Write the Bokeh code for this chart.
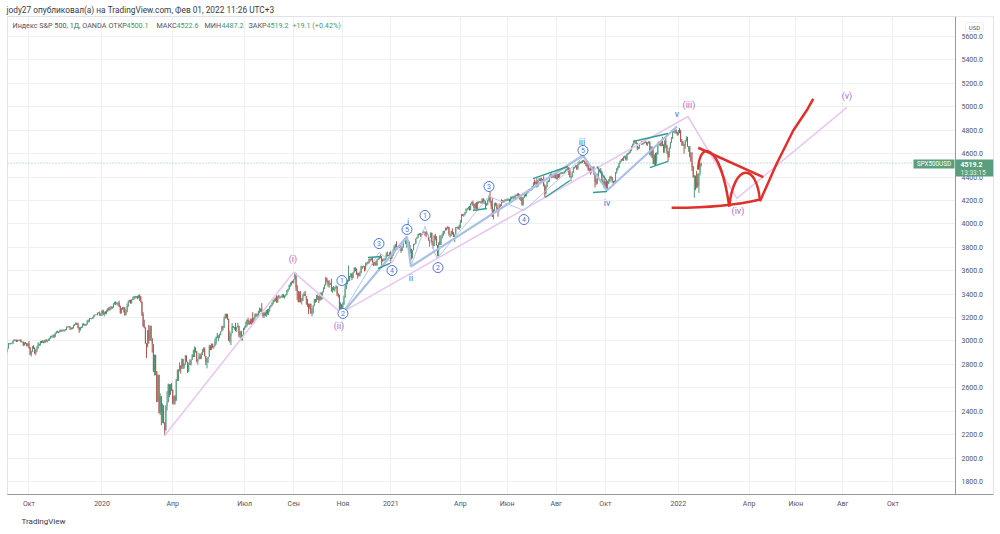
from bokeh.plotting import figure
from bokeh.models import (FixedTicker, PrintfTickFormatter, Label, Span, ColumnDataSource,
                          BoxAnnotation, Title)
from bokeh.core.properties import value
from bokeh.embed import file_html
from bokeh.resources import INLINE

FONT = "Roboto"

# ---------------- daily closes (SPX500USD, OANDA), one list per month ----------------
c2019_09 = [2906, 2938, 2977, 2979, 2979, 2980, 3001, 3009, 3007, 2998, 3006, 3007, 3006, 2992, 2992, 2966, 2984, 2977, 2961, 2977]
c2019_10 = [2940, 2887, 2910, 2952, 2938, 2893, 2919, 2938, 2970, 2966, 2995, 2990, 2998, 2986, 3007, 2996, 3005, 3010, 3023, 3039, 3036, 3047, 3038]
c2019_11 = [3067, 3078, 3075, 3077, 3085, 3093, 3087, 3091, 3094, 3097, 3120, 3122, 3120, 3108, 3104, 3110, 3134, 3141, 3153, 3141]
c2019_12 = [3114, 3093, 3113, 3117, 3146, 3136, 3133, 3142, 3169, 3169, 3191, 3192, 3191, 3205, 3221, 3224, 3223, 3240, 3240, 3221, 3231]
c2020_01 = [3258, 3235, 3246, 3237, 3253, 3275, 3265, 3288, 3283, 3289, 3317, 3330, 3321, 3321, 3325, 3295, 3244, 3276, 3273, 3284, 3226]
c2020_02 = [3249, 3298, 3334, 3346, 3328, 3352, 3358, 3379, 3374, 3380, 3370, 3386, 3373, 3338, 3226, 3128, 3116, 2979, 2954]
c2020_03 = [3090, 3003, 3130, 3024, 2972, 2747, 2882, 2741, 2481, 2711, 2386, 2529, 2398, 2409, 2305, 2237, 2447, 2476, 2630, 2541, 2627, 2585]
c2020_04 = [2471, 2527, 2489, 2664, 2660, 2750, 2790, 2762, 2846, 2784, 2800, 2875, 2823, 2737, 2799, 2798, 2837, 2878, 2863, 2939, 2912]
c2020_05 = [2830, 2843, 2868, 2848, 2881, 2930, 2930, 2870, 2820, 2852, 2863, 2954, 2922, 2972, 2949, 2955, 2991, 3036, 3029, 3044]
c2020_06 = [3055, 3081, 3122, 3112, 3193, 3232, 3207, 3190, 3002, 3041, 3067, 3125, 3113, 3115, 3097, 3117, 3131, 3050, 3084, 3009, 3053, 3100]
c2020_07 = [3116, 3130, 3180, 3145, 3169, 3152, 3185, 3155, 3197, 3227, 3215, 3224, 3251, 3257, 3276, 3236, 3216, 3239, 3218, 3258, 3246, 3271]
c2020_08 = [3295, 3306, 3327, 3349, 3351, 3360, 3333, 3380, 3373, 3373, 3381, 3389, 3374, 3385, 3397, 3431, 3443, 3479, 3484, 3508, 3500]
c2020_09 = [3526, 3580, 3455, 3427, 3331, 3398, 3339, 3341, 3383, 3401, 3385, 3357, 3319, 3281, 3315, 3237, 3246, 3298, 3351, 3335, 3363]
c2020_10 = [3381, 3348, 3408, 3361, 3419, 3447, 3477, 3535, 3512, 3489, 3483, 3484, 3427, 3443, 3436, 3453, 3465, 3401, 3391, 3271, 3310, 3270]
c2020_11 = [3310, 3370, 3443, 3510, 3509, 3551, 3545, 3572, 3537, 3585, 3627, 3610, 3568, 3582, 3558, 3578, 3635, 3629, 3638, 3622]
c2020_12 = [3662, 3669, 3666, 3699, 3692, 3702, 3673, 3668, 3663, 3647, 3695, 3702, 3722, 3709, 3695, 3687, 3690, 3703, 3735, 3727, 3732, 3756]
c2021_01 = [3701, 3726, 3748, 3804, 3825, 3799, 3801, 3809, 3795, 3768, 3798, 3852, 3853, 3841, 3855, 3849, 3750, 3787, 3714]
c2021_02 = [3774, 3826, 3830, 3872, 3887, 3915, 3911, 3910, 3916, 3934, 3932, 3931, 3913, 3907, 3877, 3881, 3925, 3829, 3811]
c2021_03 = [3901, 3870, 3820, 3768, 3842, 3821, 3875, 3898, 3939, 3943, 3968, 3962, 3974, 3915, 3913, 3940, 3910, 3889, 3909, 3974, 3971, 3958, 3973]
c2021_04 = [4019, 4077, 4073, 4079, 4097, 4128, 4127, 4141, 4124, 4170, 4185, 4163, 4135, 4173, 4134, 4180, 4187, 4186, 4183, 4211, 4181]
c2021_05 = [4192, 4164, 4167, 4201, 4232, 4188, 4152, 4063, 4113, 4173, 4163, 4127, 4116, 4159, 4156, 4197, 4188, 4196, 4200, 4204]
c2021_06 = [4202, 4208, 4192, 4229, 4226, 4227, 4219, 4239, 4247, 4255, 4246, 4223, 4222, 4166, 4224, 4246, 4242, 4266, 4281, 4291, 4291, 4297]
c2021_07 = [4320, 4352, 4344, 4358, 4321, 4370, 4385, 4369, 4374, 4361, 4327, 4259, 4323, 4359, 4368, 4412, 4422, 4402, 4400, 4419, 4395]
c2021_08 = [4387, 4423, 4402, 4429, 4437, 4432, 4436, 4447, 4460, 4468, 4479, 4448, 4400, 4405, 4441, 4479, 4486, 4496, 4470, 4509, 4529, 4523]
c2021_09 = [4524, 4537, 4535, 4520, 4514, 4493, 4459, 4469, 4443, 4481, 4474, 4433, 4358, 4354, 4396, 4449, 4455, 4443, 4353, 4360, 4308]
c2021_10 = [4357, 4300, 4345, 4363, 4399, 4391, 4361, 4350, 4364, 4438, 4471, 4486, 4520, 4537, 4549, 4545, 4567, 4575, 4551, 4596, 4605]
c2021_11 = [4614, 4630, 4660, 4680, 4697, 4702, 4685, 4646, 4649, 4683, 4682, 4700, 4688, 4705, 4698, 4682, 4690, 4701, 4595, 4655, 4567]
c2021_12 = [4513, 4577, 4538, 4592, 4686, 4701, 4668, 4712, 4669, 4635, 4710, 4669, 4621, 4568, 4650, 4697, 4726, 4791, 4786, 4793, 4778, 4766]
c2022_01 = [4797, 4794, 4701, 4696, 4677, 4670, 4713, 4726, 4660, 4663, 4577, 4533, 4483, 4398, 4410, 4357, 4350, 4327, 4432, 4516]

# wick beyond the body (points above / below), per trading day
up_2019 = [8, 5, 6, 4, 5, 6, 3, 7, 4, 5, 6, 4, 5, 9, 6, 4, 5, 7, 6, 5,
           22, 10, 6, 5, 12, 8, 9, 18, 20, 8, 6, 7, 9, 6, 5, 10, 6, 9, 5, 6, 6, 8, 10,
           5, 6, 8, 6, 12, 5, 4, 8, 5, 6, 5, 4, 6, 8, 6, 9, 5, 4, 6, 3,
           14, 6, 9, 5, 4, 7, 8, 5, 12, 14, 6, 5, 4, 5, 4, 5, 3, 4, 6, 12, 4]
dn_2019 = [12, 4, 5, 6, 8, 7, 5, 4, 6, 7, 5, 6, 8, 4, 6, 10, 7, 5, 8, 6,
           4, 8, 20, 6, 5, 4, 15, 12, 4, 8, 5, 9, 6, 5, 6, 4, 10, 5, 7, 4, 6, 8, 14,
           6, 5, 4, 9, 5, 7, 9, 5, 10, 6, 5, 6, 5, 14, 8, 5, 4, 6, 5, 4,
           8, 24, 5, 6, 5, 4, 6, 5, 4, 12, 6, 4, 5, 4, 6, 4, 2, 4, 5, 6, 10]
up_2020 = [6, 10, 5, 8, 14, 7, 14, 6, 10, 8, 6, 5, 8, 12, 6, 20, 8, 6, 12, 8, 4,
           18, 22, 12, 6, 6, 5, 18, 5, 6, 4, 6, 7, 12, 12, 0, 20, 54, 0, 0,
           4, 47, 0, 0, 0, 0, 0, 0, 0, 0, 0, 24, 0, 57, 44, 0, 2, 95, 7, 0, 4, 14,
           0, 6, 11, 12, 92, 10, 28, 0, 6, 0, 7, 4, 0, 0, 16, 45, 5, 9, 47, 15, 6,
           0, 0, 30, 23, 20, 2, 15, 15, 4, 0, 0, 14, 10, 8, 6, 1, 30, 0, 32, 5,
           7, 0, 8, 8, 18, 0, 0, 25, 0, 47, 0, 28, 5, 5, 40, 3, 24, 0, 0, 4, 0, 12,
           12, 35, 5, 19, 6, 22, 8, 60, 5, 7, 10, 10, 7, 29, 3, 47, 12, 6, 13, 6, 14, 5,
           3, 4, 2, 5, 12, 11, 30, 7, 14, 9, 7, 11, 13, 5, 2, 4, 4, 2, 17, 1, 8,
           2, 8, 0, 24, 0, 26, 27, 27, 19, 18, 27, 0, 0, 0, 5, 5, 29, 8, 9, 10, 30,
           16, 5, 6, 7, 5, 12, 5, 14, 6, 5, 30, 15, 47, 17, 26, 7, 10, 5, 6, 4, 21, 5,
           20, 18, 43, 8, 12, 94, 6, 8, 9, 4, 1, 0, 9, 0, 0, 16, 8, 0, 6, 0,
           6, 4, 10, 5, 5, 7, 10, 5, 6, 22, 4, 9, 4, 17, 8, 7, 16, 5, 21, 29, 5, 4]
dn_2020 = [18, 13, 25, 8, 8, 6, 6, 5, 14, 10, 6, 6, 16, 10, 22, 6, 13, 10, 6, 30, 12,
           6, 5, 8, 6, 10, 10, 5, 6, 12, 8, 14, 5, 30, 10, 12, 10, 8, 2, 99,
           9, 27, 0, 25, 71, 13, 42, 34, 3, 0, 5, 19, 117, 99, 10, 45, 0, 40, 0, 21, 0, 14,
           12, 16, 30, 0, 3, 0, 10, 41, 0, 23, 20, 0, 3, 10, 0, 4, 7, 0, 2, 0, 11,
           14, 32, 0, 4, 0, 0, 27, 1, 27, 54, 39, 0, 0, 0, 11, 15, 0, 22, 6, 31,
           19, 7, 0, 22, 0, 0, 14, 9, 0, 18, 76, 0, 3, 20, 14, 20, 0, 18, 26, 2, 9, 0,
           6, 4, 8, 6, 10, 10, 13, 5, 10, 16, 8, 20, 15, 15, 10, 6, 16, 20, 5, 13, 20, 24,
           20, 10, 8, 14, 18, 13, 7, 8, 11, 12, 4, 12, 5, 11, 7, 5, 14, 7, 19, 10, 7,
           10, 0, 28, 78, 1, 0, 10, 28, 0, 0, 0, 47, 27, 52, 10, 5, 28, 14, 0, 8, 0,
           13, 25, 5, 10, 6, 5, 4, 5, 13, 25, 28, 6, 5, 16, 5, 15, 6, 17, 20, 5, 21, 37,
           0, 0, 0, 0, 25, 0, 34, 0, 17, 0, 0, 16, 1, 38, 7, 7, 0, 15, 0, 28,
           20, 18, 10, 5, 14, 4, 23, 29, 18, 5, 5, 4, 5, 3, 57, 12, 4, 5, 2, 5, 4, 14]
up_2021 = [13, 6, 35, 13, 1, 26, 9, 11, 19, 20, 11, 7, 7, 7, 10, 11, 0, 32, 0,
           0, 3, 3, 4, 2, 0, 6, 10, 0, 0, 3, 0, 7, 14, 0, 0, 3, 0, 25,
           0, 15, 25, 0, 0, 60, 28, 20, 0, 0, 0, 0, 9, 0, 0, 0, 21, 20, 0, 0, 0, 10, 21,
           14, 6, 9, 7, 5, 4, 6, 5, 12, 5, 6, 14, 8, 5, 14, 11, 6, 8, 9, 7, 10,
           17, 8, 11, 6, 9, 40, 10, 70, 12, 8, 10, 14, 12, 16, 9, 15, 6, 6, 11, 9,
           13, 8, 6, 4, 5, 12, 13, 12, 5, 6, 8, 7, 10, 9, 4, 5, 14, 6, 5, 6, 7, 5,
           5, 3, 27, 6, 32, 5, 6, 8, 20, 10, 46, 10, 6, 5, 6, 7, 8, 8, 16, 10, 16,
           34, 6, 5, 6, 4, 7, 8, 5, 6, 4, 5, 8, 27, 7, 6, 6, 3, 5, 6, 6, 6, 3,
           14, 8, 10, 6, 9, 8, 38, 12, 17, 6, 7, 19, 10, 30, 35, 16, 8, 21, 9, 16, 52,
           9, 12, 12, 20, 10, 12, 10, 6, 7, 5, 5, 8, 2, 4, 6, 14, 10, 8, 10, 6, 3,
           6, 5, 6, 5, 3, 16, 7, 6, 10, 6, 7, 8, 10, 6, 17, 4, 8, 6, 4, 10, 6,
           85, 18, 30, 20, 10, 5, 7, 2, 31, 10, 3, 34, 6, 0, 2, 3, 14, 0, 16, 11, 15, 8]
dn_2021 = [38, 0, 0, 0, 15, 0, 18, 6, 0, 14, 0, 0, 0, 14, 45, 0, 0, 0, 20,
           9, 0, 9, 0, 0, 9, 7, 21, 13, 11, 11, 33, 28, 0, 22, 72, 0, 6, 22,
           0, 11, 5, 45, 44, 0, 0, 0, 0, 25, 0, 17, 8, 16, 28, 18, 0, 0, 45, 0, 6, 6, 10,
           8, 10, 7, 13, 7, 6, 13, 5, 10, 8, 6, 12, 17, 6, 11, 7, 8, 6, 9, 13, 7,
           9, 36, 10, 7, 6, 8, 27, 5, 24, 6, 14, 8, 55, 10, 11, 6, 8, 7, 6, 8,
           6, 5, 24, 6, 17, 10, 8, 7, 5, 9, 10, 17, 27, 10, 12, 5, 8, 9, 7, 13, 9, 8,
           7, 8, 11, 8, 12, 6, 7, 6, 7, 9, 8, 30, 8, 12, 6, 9, 7, 13, 6, 9, 8,
           6, 9, 9, 8, 6, 7, 6, 7, 6, 6, 12, 31, 6, 37, 9, 6, 7, 6, 10, 7, 6, 8,
           6, 7, 5, 10, 21, 11, 6, 20, 22, 10, 12, 13, 47, 20, 15, 6, 10, 12, 8, 16, 5,
           7, 22, 12, 6, 8, 10, 8, 28, 10, 6, 8, 14, 9, 6, 7, 6, 8, 6, 11, 10, 8,
           9, 7, 8, 6, 8, 9, 3, 18, 8, 6, 2, 9, 12, 6, 8, 10, 17, 5, 9, 20, 7,
           3, 15, 43, 30, 0, 15, 4, 8, 3, 28, 29, 22, 24, 37, 0, 7, 5, 0, 8, 14, 8, 12]
up_2022 = [4, 21, 9, 24, 12, 4, 2, 22, 18, 3, 0, 34, 79, 12, 7, 1, 96, 78, 0, 0]
dn_2022 = [11, 20, 1, 30, 11, 71, 30, 10, 1, 45, 9, 3, 32, 3, 175, 70, 46, 18, 63, 18]

first_open = 2909.0
# last (current) bar, from the legend
last_open, last_high, last_low, last_close = 4500.1, 4522.6, 4487.2, 4519.2

monthly_closes = [c2019_09, c2019_10, c2019_11, c2019_12,
                  c2020_01, c2020_02, c2020_03, c2020_04, c2020_05, c2020_06,
                  c2020_07, c2020_08, c2020_09, c2020_10, c2020_11, c2020_12,
                  c2021_01, c2021_02, c2021_03, c2021_04, c2021_05, c2021_06,
                  c2021_07, c2021_08, c2021_09, c2021_10, c2021_11, c2021_12,
                  c2022_01]
month_keys = ["2019-09", "2019-10", "2019-11", "2019-12",
              "2020-01", "2020-02", "2020-03", "2020-04", "2020-05", "2020-06",
              "2020-07", "2020-08", "2020-09", "2020-10", "2020-11", "2020-12",
              "2021-01", "2021-02", "2021-03", "2021-04", "2021-05", "2021-06",
              "2021-07", "2021-08", "2021-09", "2021-10", "2021-11", "2021-12",
              "2022-01"]
future_keys = ["2022-02", "2022-03", "2022-04", "2022-05", "2022-06", "2022-07",
               "2022-08", "2022-09", "2022-10", "2022-11", "2022-12"]
future_bars = [19, 23, 20, 21, 21, 20, 23, 21, 21, 21, 21]

tick_months = ["2019-10", "2020-01", "2020-04", "2020-07", "2020-09", "2020-11",
               "2021-01", "2021-04", "2021-06", "2021-08", "2021-10",
               "2022-01", "2022-04", "2022-06", "2022-08", "2022-10"]
tick_labels = ["Окт", "2020", "Апр", "Июл", "Сен", "Ноя",
               "2021", "Апр", "Июн", "Авг", "Окт",
               "2022", "Апр", "Июн", "Авг", "Окт"]
price_ticks = [1800, 2000, 2200, 2400, 2600, 2800, 3000, 3200, 3400, 3600, 3800,
               4000, 4200, 4400, 4600, 4800, 5000, 5200, 5400, 5600]

# ---------------- drawings (bar index, price) ----------------
pink_x = [139, 252, 293.5, 597.4, 640.3, 736.7]
pink_y = [2192, 3588, 3240, 4917, 4217, 4994]
pink_lbl = ["(i)", "(ii)", "(iii)", "(iv)", "(v)"]
pink_lx = [251.3, 291.6, 598.3, 641.2, 736.7]
pink_ly = [3703, 3132, 5011, 4114, 5096]

blue_x = [295.1, 351.2, 354.7, 505.4, 526.5, 587.8]
blue_y = [3243, 3892, 3636, 4584, 4285, 4831]
sub1_x = [295.1, 326.7, 338.1, 351.2]
sub1_y = [3243, 3756, 3670, 3892]
sub2_x = [354.7, 367.0, 377.5, 423.1, 453.7, 505.4]
sub2_y = [3636, 3978, 3704, 4234, 4114, 4567]
circ_x = [294.2, 295.1, 326.7, 338.1, 351.2, 367.0, 378.4, 423.1, 453.7, 505.4]
circ_y = [3516, 3235, 3832, 3602, 3952, 4072, 3627, 4319, 4037, 4627]
circ_t = ["1", "2", "3", "4", "5", "1", "2", "3", "4", "5"]
minor_lbl = ["i", "ii", "iii", "iv", "v"]
minor_x = [352.1, 354.7, 504.5, 526.5, 587.8]
minor_y = [4015, 3534, 4695, 4174, 4942]

teal_x0 = [317.0, 325.8, 409.0, 461.6, 472.1, 517.7, 514.2, 549.2, 564.1]
teal_y0 = [3713, 3619, 4114, 4387, 4225, 4490, 4268, 4703, 4481]
teal_x1 = [329.3, 336.3, 421.3, 492.3, 494.0, 527.3, 526.5, 579.9, 579.9]
teal_y1 = [3721, 3662, 4131, 4490, 4370, 4353, 4276, 4772, 4533]

red_bz_x0 = [583.1, 606.4, 633.6]
red_bz_y0 = [4137, 4462, 4148]
red_bz_x1 = [660.5, 633.6, 660.5]
red_bz_y1 = [4208, 4148, 4194]
red_bz_cx0 = [607.9, 607.0, 637.7]
red_bz_cy0 = [4136, 4712, 4524]
red_bz_cx1 = [638.6, 625.4, 657.9]
red_bz_cy1 = [4157, 4712, 4524]
red_rise_x = [660.5, 675.1, 689.7, 701.4, 707.2]
red_rise_y = [4194, 4513, 4797, 4968, 5068]
red_top_x = [606.4, 663.4]
red_top_y = [4650, 4399]

# ---------------- build candles ----------------
closes = [v for m in monthly_closes for v in m]
ups = up_2019 + up_2020 + up_2021 + up_2022
dns = dn_2019 + dn_2020 + dn_2021 + dn_2022
n = min(len(closes), len(ups), len(dns))
closes = closes[:n]
opens = [first_open] + closes[:-1]
highs = [max(o, c) + u for o, c, u in zip(opens, closes, ups)]
lows = [min(o, c) - d for o, c, d in zip(opens, closes, dns)]
opens.append(last_open); highs.append(last_high); lows.append(last_low); closes.append(last_close)
xs = list(range(len(closes)))

UP, DN = "#4f9a7c", "#a8554f"
cols = [UP if c >= o else DN for o, c in zip(opens, closes)]
src = ColumnDataSource(dict(x=xs, h=highs, l=lows,
                            top=[max(o, c) for o, c in zip(opens, closes)],
                            bot=[min(o, c) for o, c in zip(opens, closes)], col=cols))

# month starts -> tick positions
starts = {}
i = 0
for k, m in zip(month_keys, monthly_closes):
    starts[k] = i
    i += len(m)
for k, b in zip(future_keys, future_bars):
    starts[k] = i
    i += b
tick_idx = [starts[k] for k in tick_months]

# ---------------- figure ----------------
FW, FH = 986, 478
X0, PXB = 1.2, 1.1413            # first visible bar index, pixels per bar
X1 = X0 + FW / PXB
SCALE_EDGE = X0 + 948 / PXB      # where the price scale starts
p = figure(frame_width=FW, frame_height=FH, x_range=(X0, X1), y_range=(1689.1, 5770.8),
           y_axis_location="right", output_backend="svg", toolbar_location=None,
           min_border_left=7, min_border_right=5, min_border_top=16, min_border_bottom=38,
           background_fill_color="white", border_fill_color="white",
           outline_line_color="#e0e3eb")
p.title.text = "jody27 опубликовал(а) на TradingView.com, Фев 01, 2022 11:26 UTC+3"
p.title.align = "left"
p.title.offset = -1
p.title.standoff = 3
p.title.text_font = FONT
p.title.text_font_size = "8.3px"
p.title.text_font_style = "normal"
p.title.text_color = "#363a45"

AX = "#9598a1"
p.xaxis.ticker = FixedTicker(ticks=tick_idx)
p.xaxis.major_label_overrides = {t: s for t, s in zip(tick_idx, tick_labels)}
p.yaxis.ticker = FixedTicker(ticks=price_ticks)
p.yaxis.formatter = PrintfTickFormatter(format="%.1f")
for ax in (p.xaxis[0], p.yaxis[0]):
    ax.major_tick_line_color = None
    ax.minor_tick_line_color = None
    ax.major_tick_out = 0
    ax.major_tick_in = 0
    ax.minor_tick_out = 0
    ax.minor_tick_in = 0
    ax.major_label_text_font = FONT
    ax.major_label_text_font_size = "7px"
    ax.major_label_text_color = "#50535e"
p.xaxis.axis_line_color = AX
p.yaxis.axis_line_color = "#e0e3eb"
p.xaxis.major_label_standoff = 5
p.yaxis.major_label_standoff = -32
p.xgrid.grid_line_color = "#eef0f4"
p.ygrid.grid_line_color = "#eef0f4"

p.add_layout(Title(text="TradingView", align="left", offset=14, standoff=9,
                   text_font=FONT, text_font_size="8px", text_font_style="normal",
                   text_color="#363a45"), "below")

price_line = Span(location=last_close, dimension="width", line_color="#8dbba4",
                  line_dash="1 2", line_width=1, level="underlay")
p.add_layout(price_line)
p.add_layout(BoxAnnotation(left=SCALE_EDGE, fill_color="white", fill_alpha=1.0,
                           line_color=None, level="underlay"))
p.add_layout(Span(location=SCALE_EDGE, dimension="height", line_color=AX, line_width=1))

p.segment(x0="x", y0="h", x1="x", y1="l", line_color="col", line_width=1, source=src)
p.vbar(x="x", width=0.7, top="top", bottom="bot", fill_color="col", line_color=None, source=src)

# drawings
p.line(pink_x, pink_y, line_color="#e9c8ef", line_width=1.6)
p.line(blue_x, blue_y, line_color="#a9bfe6", line_width=2.2)
p.line(sub1_x, sub1_y, line_color="#b4c6ea", line_width=1)
p.line(sub2_x, sub2_y, line_color="#b4c6ea", line_width=1)
p.segment(teal_x0, teal_y0, teal_x1, teal_y1, line_color="#2f9e8f", line_width=1.4)

RED = "#e0302b"
p.bezier(x0=red_bz_x0, y0=red_bz_y0, x1=red_bz_x1, y1=red_bz_y1,
         cx0=red_bz_cx0, cy0=red_bz_cy0, cx1=red_bz_cx1, cy1=red_bz_cy1,
         line_color=RED, line_width=2.5)
p.line(red_rise_x, red_rise_y, line_color=RED, line_width=2.5)
p.line(red_top_x, red_top_y, line_color=RED, line_width=2.5)

PURPLE = "#b566c9"
BLUE = "#4f74d3"
p.text(pink_lx, pink_ly, text=pink_lbl, text_color=PURPLE, text_font=value(FONT),
       text_font_size="9px", text_align="center", text_baseline="middle")
p.scatter(circ_x, circ_y, size=10, marker="circle", fill_color="white",
          line_color=BLUE, line_width=1)
p.text(circ_x, circ_y, text=circ_t, text_color=BLUE, text_font=value(FONT),
       text_font_size="7px", text_align="center", text_baseline="middle")
p.text(minor_x, minor_y, text=minor_lbl, text_color=BLUE, text_font=value(FONT),
       text_font_size="9px", text_align="center", text_baseline="middle")

# ---------------- legend / tags (screen units, frame-relative) ----------------
def lab(x, y, text, size="7.2px", color="#333333", **kw):
    p.add_layout(Label(x=x, y=y, x_units="screen", y_units="screen", text=text,
                       text_font=FONT, text_font_size=size, text_color=color,
                       text_baseline="middle", **kw))

def sbox(left, right, top, bottom, **kw):
    p.add_layout(BoxAnnotation(left=left, right=right, top=top, bottom=bottom,
                               left_units="screen", right_units="screen",
                               top_units="screen", bottom_units="screen", **kw))

LY = FH - 9
lab(5, LY, "Индекс S&P 500, 1Д, OANDA", color="#50535e")
GREEN_T = "#3f9a6e"
keys = ["ОТКР", "МАКС", "МИН", "ЗАКР"]
vals = [last_open, last_high, last_low, last_close]
key_x = [101, 149, 197, 241]
val_x = [119, 169, 214, 259]
for kx, vx, k, v in zip(key_x, val_x, keys, vals):
    lab(kx, LY, k, color="#50535e")
    lab(vx, LY, f"{v:.1f}", color=GREEN_T)
chg = last_close - last_open
lab(285, LY, f"+{chg:.1f} (+{chg / last_open * 100:.2f}%)", color=GREEN_T)

TAG = "#5a9f7d"
sbox(948, 986, FH - 143, FH - 160, fill_color=TAG, fill_alpha=1.0, line_color=None)
lab(953, FH - 148, f"{last_close:.1f}", size="7px", color="white", text_font_style="bold")
lab(953, FH - 156, "13:33:15", size="6.5px", color="#e4f2ea")
sbox(906, 947, FH - 143, FH - 152, fill_color=TAG, fill_alpha=1.0, line_color=None)
lab(926.5, FH - 147.5, "SPX500USD", size="6.3px", color="white", text_align="center")
sbox(958, 976, FH - 6, FH - 15, fill_color="white", fill_alpha=1.0,
     line_color="#c9cbd1", line_width=1, border_radius=2)
lab(967, FH - 10.5, "USD", size="6px", color="#50535e", text_align="center")

open("out.html", "w").write(file_html(p, INLINE))
